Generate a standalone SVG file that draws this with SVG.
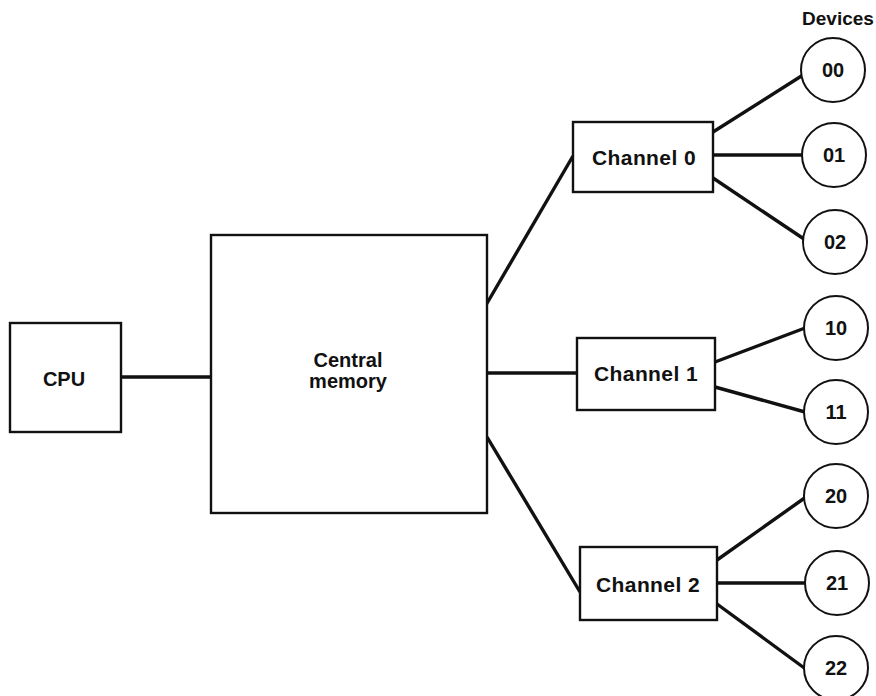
<svg xmlns="http://www.w3.org/2000/svg" width="876" height="696" viewBox="0 0 876 696">
  <style>
    .box { fill: #ffffff; stroke: #111111; stroke-width: 2.4; }
    .dev { fill: #ffffff; stroke: #111111; stroke-width: 2; }
    .link { stroke: #111111; stroke-width: 3.4; fill: none; stroke-linecap: butt; }
    .lbl { font-family: "Liberation Sans", Arial, sans-serif; font-weight: bold; fill: #111111; text-anchor: middle; }
  </style>
  <rect width="876" height="696" fill="#ffffff"/>

  <!-- connectors -->
  <g id="connectors">
    <line class="link" x1="121" y1="377" x2="211" y2="377"/>
    <line class="link" x1="486" y1="305" x2="573" y2="156"/>
    <line class="link" x1="487" y1="373" x2="577" y2="373"/>
    <line class="link" x1="487" y1="437" x2="580" y2="592"/>
    <line class="link" x1="713" y1="132" x2="803" y2="75"/>
    <line class="link" x1="713" y1="155" x2="803" y2="155"/>
    <line class="link" x1="713" y1="178" x2="804" y2="239"/>
    <line class="link" x1="715" y1="362" x2="805" y2="328"/>
    <line class="link" x1="715" y1="387" x2="805" y2="412"/>
    <line class="link" x1="717" y1="560" x2="806" y2="497"/>
    <line class="link" x1="717" y1="583" x2="806" y2="583"/>
    <line class="link" x1="717" y1="604" x2="807" y2="670"/>
  </g>

  <g id="cpu">
    <rect class="box" x="10" y="323" width="111" height="109"/>
    <text class="lbl" x="64" y="386" font-size="20">CPU</text>
  </g>

  <g id="memory">
    <rect class="box" x="211" y="235" width="276" height="278"/>
    <text class="lbl" x="348" y="367" font-size="20">Central</text>
    <text class="lbl" x="348" y="388" font-size="20">memory</text>
  </g>

  <g id="channel0">
    <rect class="box" x="573" y="122" width="140" height="70"/>
    <text class="lbl" x="644" y="165" font-size="21" letter-spacing="0.4">Channel 0</text>
  </g>
  <g id="channel1">
    <rect class="box" x="577" y="338" width="138" height="72"/>
    <text class="lbl" x="646" y="381" font-size="21" letter-spacing="0.4">Channel 1</text>
  </g>
  <g id="channel2">
    <rect class="box" x="580" y="547" width="137" height="73"/>
    <text class="lbl" x="648" y="592" font-size="21" letter-spacing="0.4">Channel 2</text>
  </g>

  <text class="lbl" x="838" y="25" font-size="19">Devices</text>

  <g id="dev00">
    <circle class="dev" cx="833" cy="70" r="32"/>
    <text class="lbl" x="833" y="77" font-size="20">00</text>
  </g>
  <g id="dev01">
    <circle class="dev" cx="834" cy="155" r="32"/>
    <text class="lbl" x="834" y="162" font-size="20">01</text>
  </g>
  <g id="dev02">
    <circle class="dev" cx="835" cy="242" r="32"/>
    <text class="lbl" x="835" y="249" font-size="20">02</text>
  </g>
  <g id="dev10">
    <circle class="dev" cx="836" cy="328" r="32"/>
    <text class="lbl" x="836" y="335" font-size="20">10</text>
  </g>
  <g id="dev11">
    <circle class="dev" cx="836" cy="412" r="32"/>
    <text class="lbl" x="836" y="419" font-size="20">11</text>
  </g>
  <g id="dev20">
    <circle class="dev" cx="836" cy="496" r="32"/>
    <text class="lbl" x="836" y="503" font-size="20">20</text>
  </g>
  <g id="dev21">
    <circle class="dev" cx="837" cy="583" r="32"/>
    <text class="lbl" x="837" y="590" font-size="20">21</text>
  </g>
  <g id="dev22">
    <circle class="dev" cx="836" cy="668" r="32"/>
    <text class="lbl" x="836" y="675" font-size="20">22</text>
  </g>
</svg>
